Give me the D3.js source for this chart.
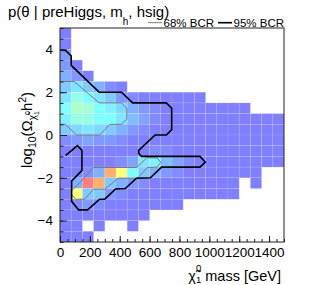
<!DOCTYPE html>
<html>
<head>
<meta charset="utf-8">
<script src="https://cdn.jsdelivr.net/npm/d3@7/dist/d3.min.js"></script>
<style>
  body { margin: 0; background: #fff; }
  svg { display: block; font-family: "Liberation Sans", Arial, Helvetica, sans-serif; }
</style>
</head>
<body>
<div id="chart"></div>
<script>
// bin edges of the 2D posterior histogram
const massEdges = [0, 75, 150, 225, 300, 375, 450, 525, 600, 675, 750, 825, 900, 975, 1050, 1125, 1200, 1275, 1350, 1425, 1500];
const logEdges = [5, 4.5, 4, 3.5, 3, 2.5, 2, 1.5, 1, 0.5, 0, -0.5, -1, -1.5, -2, -2.5, -3, -3.5, -4, -4.5, -5];

// relative posterior density per cell, rows from top (log 5) to bottom (log -5), 0 = empty
const density = [
  [1, 0, 0, 0, 0, 0, 0, 0, 0, 0, 0, 0, 0, 0, 0, 0, 0, 0, 0, 0],
  [1, 0, 0, 0, 0, 0, 0, 0, 0, 0, 0, 0, 0, 0, 0, 0, 0, 0, 0, 0],
  [2, 0, 0, 0, 0, 0, 0, 0, 0, 0, 0, 0, 0, 0, 0, 0, 0, 0, 0, 0],
  [2, 1, 0, 0, 0, 0, 0, 0, 0, 0, 0, 0, 0, 0, 0, 0, 0, 0, 0, 0],
  [3, 2, 1, 0, 0, 0, 0, 0, 0, 0, 0, 0, 0, 0, 0, 0, 0, 0, 0, 0],
  [4, 5, 4, 3, 1.5, 1, 0, 0, 0, 0, 0, 0, 0, 0, 0, 0, 0, 0, 0, 0],
  [5, 7, 6, 5, 4, 2, 1.5, 1, 1, 1, 1, 1, 1, 0, 0, 0, 0, 0, 0, 0],
  [6, 8, 7.5, 6, 5.5, 4.5, 3, 2, 1.5, 1, 1, 1, 1, 1, 1, 1, 1, 0, 0, 0],
  [5.5, 7, 7, 6, 6, 5, 3.5, 2.5, 1.5, 1, 1, 1, 1, 1, 1, 1, 1, 1, 1, 1],
  [4, 4.5, 5, 4.5, 4, 3, 2, 1.5, 1, 1, 1, 1, 1, 1, 1, 1, 1, 1, 1, 1],
  [1.5, 2, 2.5, 2, 2, 1.5, 1, 1, 1, 1, 1, 1, 1, 1, 1, 1, 1, 1, 1, 1],
  [1, 1, 1, 1, 1, 1, 1, 1, 1.5, 1.5, 1, 1, 1, 1, 1, 1, 1, 1, 1, 1],
  [1, 1, 1, 1, 1, 1.5, 2.5, 5, 5.5, 3.5, 2.5, 1.5, 1, 1, 1, 1, 1, 1, 1, 1],
  [1, 1, 1.5, 3, 10, 9, 6, 4, 3, 2, 1.5, 1, 1, 1, 1, 1, 1, 1, 0, 0],
  [1, 3, 11, 10, 4, 3, 2, 1.5, 1, 1, 1, 1, 1, 1, 1, 1, 0, 1, 0, 0],
  [1, 9, 4, 4, 2, 1.5, 1, 1, 1, 1, 1, 1, 1, 1, 1, 1, 0, 0, 0, 0],
  [1, 1.5, 2, 1.5, 1, 1, 1, 1, 1, 1, 1, 0, 0, 0, 0, 0, 0, 0, 0, 0],
  [1, 1, 1, 1, 1, 1, 1, 1, 0, 0, 0, 0, 0, 0, 0, 0, 0, 0, 0, 0],
  [1, 1, 0, 1, 0, 0, 1, 0, 0, 0, 0, 0, 0, 0, 0, 0, 0, 0, 0, 0],
  [1, 1, 1, 0, 0, 0, 0, 0, 0, 0, 0, 0, 0, 0, 0, 0, 0, 0, 0, 0]
];

const massTicks = [0, 200, 400, 600, 800, 1000, 1200, 1400];
const logTicks = [-4, -2, 0, 2, 4];

// Bayesian credible region contours (mass, log10 Omega h^2)
const bcr95 = [[0, 3.97], [37, 3.95], [75, 3.7], [75, 3.25], [262, 2.0], [412, 2.0], [487, 1.5], [712, 1.5],
  [748, 1.25], [748, 0.25], [712, 0.0], [637, 0.0], [527, -0.72], [527, -0.85], [545, -1.0], [937, -1.0],
  [973, -1.27], [937, -1.5], [680, -1.5], [605, -2.0], [512, -2.02], [437, -2.5], [372, -2.52], [300, -3.0],
  [265, -3.0], [185, -3.5], [125, -3.5], [78, -3.1], [78, -2.15], [147, -1.65], [147, -0.72], [117, -0.5], [38, -0.95]];
const bcr68Upper = [[0, 2.5], [95, 2.5], [262, 1.5], [412, 1.5], [448, 1.25], [448, 0.75], [412, 0.5], [335, 0.5],
  [265, 0.0], [110, 0.0], [35, 0.5], [0, 0.5]];
const bcr68Lower = [[222, -1.52], [515, -1.52], [580, -1.07], [650, -1.07], [675, -1.28], [650, -1.5], [585, -1.52],
  [520, -2.02], [390, -2.02], [300, -2.53], [225, -2.53], [165, -3.0], [105, -3.0], [77, -2.78], [77, -2.6], [145, -2.15]];

const config = {
  width: 316, height: 285,
  margin: {top: 28, right: 32, bottom: 43, left: 60}
};
const innerW = config.width - config.margin.left - config.margin.right;
const innerH = config.height - config.margin.top - config.margin.bottom;

const svg = d3.select('#chart').append('svg')
  .attr('width', config.width)
  .attr('height', config.height);

const chart = svg.append('g')
  .attr('transform', `translate(${config.margin.left},${config.margin.top})`);

const xScale = d3.scaleLinear().domain([0, 1500]).range([0, innerW]);
const yScale = d3.scaleLinear().domain([-5, 5]).range([innerH, 0]);

const colorScale = d3.scaleLinear()
  .domain([1, 3, 6, 8, 9, 10, 11])
  .range(['#8080ff', '#80b0ff', '#80ffff', '#b0ffc8', '#ffff80', '#ffb070', '#ff8080'])
  .interpolate(d3.interpolateRgb);

// flatten the grid into cells
const cells = [];
density.forEach((row, r) => {
  row.forEach((v, c) => {
    if (v > 0) cells.push({x0: massEdges[c], x1: massEdges[c + 1], y0: logEdges[r + 1], y1: logEdges[r], v});
  });
});

chart.selectAll('.cell')
  .data(cells)
  .join('rect')
  .attr('class', 'cell')
  .attr('x', d => xScale(d.x0))
  .attr('y', d => yScale(d.y1))
  .attr('width', d => xScale(d.x1) - xScale(d.x0))
  .attr('height', d => yScale(d.y0) - yScale(d.y1))
  .attr('fill', d => colorScale(d.v))
  .attr('stroke', 'rgba(255,255,255,0.15)')
  .attr('stroke-width', 0.6);

const line = d3.line().x(d => xScale(d[0])).y(d => yScale(d[1]));

// 68% regions (thin grey, closed)
chart.selectAll('.bcr68')
  .data([bcr68Upper, bcr68Lower])
  .join('path')
  .attr('class', 'bcr68')
  .attr('d', d => line(d) + (d[0][0] === 0 ? '' : 'Z'))
  .attr('fill', 'none')
  .attr('stroke', '#7a7a7a')
  .attr('stroke-width', 1);

// 95% region (black)
chart.append('path')
  .attr('d', line(bcr95))
  .attr('fill', 'none')
  .attr('stroke', '#000')
  .attr('stroke-width', 1.6)
  .attr('stroke-linejoin', 'miter');

// axes: ROOT style ticks inside the frame
const xAxis = d3.axisBottom(xScale).tickValues(massTicks).tickSizeInner(-6).tickSizeOuter(0).tickPadding(5).tickFormat(d3.format('d'));
const xMinor = d3.axisBottom(xScale).tickValues(d3.range(0, 1501, 50)).tickSizeInner(-3).tickSizeOuter(0).tickFormat('');
const yAxis = d3.axisLeft(yScale).tickValues(logTicks).tickSizeInner(-7).tickSizeOuter(0).tickPadding(7).tickFormat(d3.format('d'));
const yMinor = d3.axisLeft(yScale).tickValues(d3.range(-5, 5.01, 0.5)).tickSizeInner(-3.5).tickSizeOuter(0).tickFormat('');

[[xMinor, `translate(0,${innerH})`], [xAxis, `translate(0,${innerH})`], [yMinor, null], [yAxis, null]].forEach(([ax, tr]) => {
  const g = chart.append('g').attr('transform', tr).call(ax);
  g.select('.domain').remove();
  g.selectAll('line').attr('stroke', '#222');
  g.selectAll('text').attr('font-size', 13.5).attr('fill', '#000').style('font-family', '"Liberation Sans", Arial, sans-serif');
});

// frame
chart.append('rect')
  .attr('x', 0).attr('y', 0)
  .attr('width', innerW).attr('height', innerH)
  .attr('fill', 'none')
  .attr('stroke', '#222')
  .attr('stroke-width', 1);

// title
const title = svg.append('text').attr('x', 8).attr('y', 16.7).attr('font-size', 15);
title.append('tspan').text('p(θ | preHiggs, m');
title.append('tspan').attr('font-size', 10).attr('dy', 8.5).text('h');
title.append('tspan').attr('dy', -8.5).text(', hsig)');

// legend
const legend = svg.append('g').attr('font-size', 11.5);
legend.append('line').attr('x1', 148).attr('x2', 162).attr('y1', 22.7).attr('y2', 22.7).attr('stroke', '#7a7a7a').attr('stroke-width', 1);
legend.append('text').attr('x', 163.5).attr('y', 27.3).text('68% BCR');
legend.append('line').attr('x1', 218).attr('x2', 232).attr('y1', 22.7).attr('y2', 22.7).attr('stroke', '#000').attr('stroke-width', 1.6);
legend.append('text').attr('x', 233.5).attr('y', 27.3).text('95% BCR');

// x title (right aligned)
const xt = svg.append('text')
  .attr('x', config.width - config.margin.right - 3)
  .attr('y', 280.5)
  .attr('text-anchor', 'end')
  .attr('font-size', 14.5);
xt.append('tspan').text('χ\u0303');
xt.append('tspan').attr('font-size', 9.5).attr('dy', 2.5).text('1');
xt.append('tspan').attr('font-size', 9.5).attr('dx', -5.3).attr('dy', -12).text('0');
xt.append('tspan').attr('dy', 9.5).text(' mass [GeV]');

// y title (rotated)
const yt = svg.append('text')
  .attr('transform', 'translate(32,130) rotate(-90)')
  .attr('text-anchor', 'middle')
  .attr('font-size', 15);
yt.append('tspan').text('log');
yt.append('tspan').attr('font-size', 10.5).attr('dy', 4).text('10');
yt.append('tspan').attr('dy', -4).text('(Ω');
yt.append('tspan').attr('font-size', 10).attr('dy', 4).text('χ\u0303');
yt.append('tspan').attr('font-size', 7).attr('dy', 2.5).text('1');
yt.append('tspan').attr('font-size', 7).attr('dx', -4).attr('dy', -8.5).text('0');
yt.append('tspan').attr('dy', 2).text('h');
yt.append('tspan').attr('font-size', 10.5).attr('dy', -6.5).text('2');
yt.append('tspan').attr('dy', 6.5).text(')');
</script>
</body>
</html>
